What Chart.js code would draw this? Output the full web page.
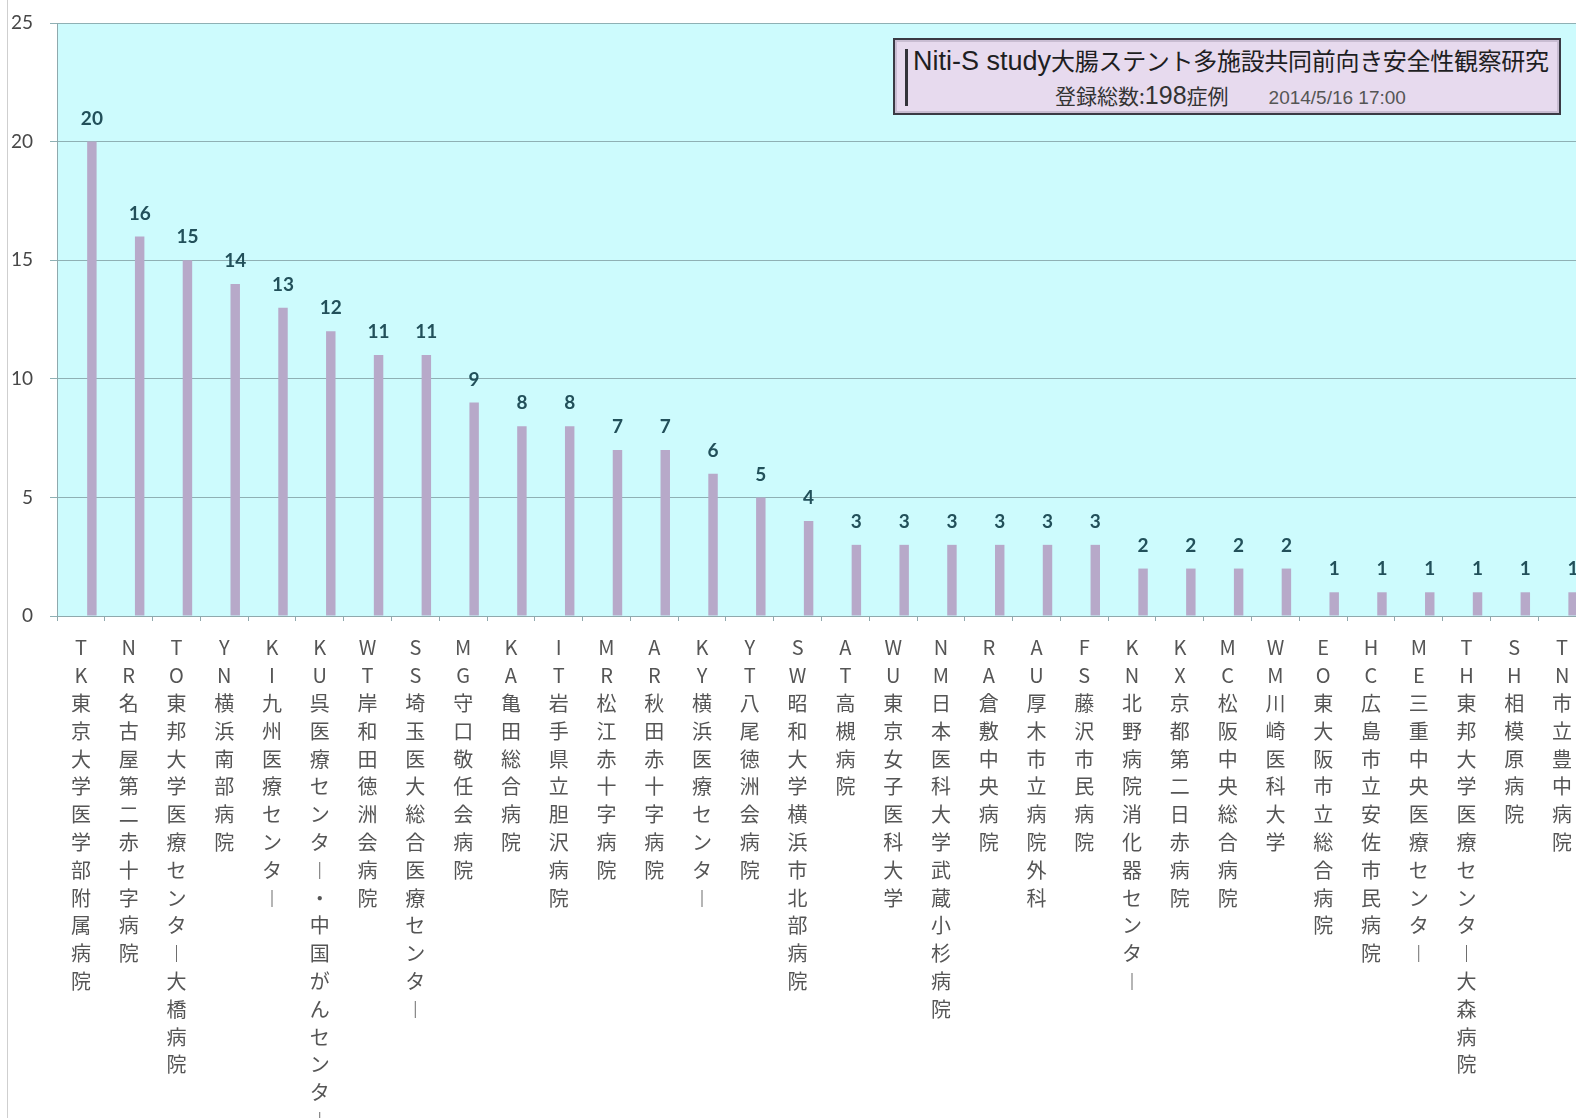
<!DOCTYPE html>
<html lang="ja">
<head>
  <meta charset="UTF-8">
  <title>Niti-S study 登録症例数</title>
  <script src="https://cdn.jsdelivr.net/npm/chart.js"></script>
  <style>
    * { margin: 0; padding: 0; box-sizing: border-box; }
    body {
      width: 1576px;
      height: 1118px;
      overflow: hidden;
      background: #fff;
      position: relative;
    }
    #wrap { position: absolute; left: 0; top: 0; }
    .frame {
      position: absolute;
      left: 893px;
      top: 38px;
      width: 668px;
      height: 77px;
      background: #e7daee;
      border: 2px solid #3a3a44;
      box-shadow: inset 0 0 0 2px #c9bdd2;
      font-family: 'Noto Sans CJK JP', sans-serif;
      color: #1e1e22;
    }
    .frame .bar {
      position: absolute;
      left: 10px;
      top: 9px;
      width: 3px;
      height: 57px;
      background: #33333a;
    }
    .frame .l1 {
      position: absolute;
      left: 18px;
      top: 2px;
      white-space: nowrap;
      font-size: 24px;
      letter-spacing: -0.3px;
    }
    .frame .l1 b {
      font-family: 'Liberation Sans Narrow', 'Liberation Sans', sans-serif;
      font-weight: normal;
      font-size: 27px;
      letter-spacing: 0;
    }
    .frame .l2 {
      position: absolute;
      left: 160px;
      top: 40px;
      white-space: nowrap;
      font-size: 21px;
      color: #333;
    }
    .frame .l2 b {
      font-family: 'Liberation Sans Narrow', 'Liberation Sans', sans-serif;
      font-size: 25px;
      font-weight: normal;
    }
    .frame .l2 span {
      font-family: 'Liberation Sans Narrow', 'Liberation Sans', sans-serif;
      font-size: 19px;
      color: #555;
      margin-left: 40px;
    }
  </style>
</head>
<body>
  <div id="wrap">
    <canvas id="cases" width="1600" height="1118"></canvas>
  </div>

  <div class="frame">
    <div class="bar"></div>
    <div class="l1"><b>Niti-S study</b>大腸ステント多施設共同前向き安全性観察研究</div>
    <div class="l2">登録総数:<b>198</b>症例<span>2014/5/16 17:00</span></div>
  </div>

  <script>
    // facility codes and names (x axis)
    const codes = ['TK', 'NR', 'TO', 'YN', 'KI', 'KU', 'WT', 'SS', 'MG', 'KA', 'IT', 'MR', 'AR', 'KY', 'YT', 'SW',
      'AT', 'WU', 'NM', 'RA', 'AU', 'FS', 'KN', 'KX', 'MC', 'WM', 'EO', 'HC', 'ME', 'TH', 'SH', 'TN'];
    const names = [
      '東京大学医学部附属病院', '名古屋第二赤十字病院', '東邦大学医療センター大橋病院', '横浜南部病院',
      '九州医療センター', '呉医療センター・中国がんセンター', '岸和田徳洲会病院', '埼玉医大総合医療センター',
      '守口敬任会病院', '亀田総合病院', '岩手県立胆沢病院', '松江赤十字病院', '秋田赤十字病院',
      '横浜医療センター', '八尾徳洲会病院', '昭和大学横浜市北部病院', '高槻病院', '東京女子医科大学',
      '日本医科大学武蔵小杉病院', '倉敷中央病院', '厚木市立病院外科', '藤沢市民病院', '北野病院消化器センター',
      '京都第二日赤病院', '松阪中央総合病院', '川崎医科大学', '東大阪市立総合病院', '広島市立安佐市民病院',
      '三重中央医療センター', '東邦大学医療センター大森病院', '相模原病院', '市立豊中病院'
    ];
    // registered cases per facility
    const cases = [20, 16, 15, 14, 13, 12, 11, 11, 9, 8, 8, 7, 7, 6, 5, 4,
      3, 3, 3, 3, 3, 3, 2, 2, 2, 2, 1, 1, 1, 1, 1, 1];
    const yTicks = [0, 5, 10, 15, 20, 25];

    const labels = codes.map((c, i) => c + names[i]);

    // stacked vertical text: one character per line
    function vertical(str) {
      return Array.from(str).map(ch => ch === 'ー' ? '︱' : ch);
    }

    const backdrop = {
      id: 'backdrop',
      beforeDraw(chart) {
        const { ctx, chartArea: a } = chart;
        ctx.save();
        ctx.fillStyle = '#cdfbfd';
        ctx.fillRect(a.left, a.top, a.right - a.left, a.bottom - a.top);
        ctx.fillStyle = '#cfcfcf';
        ctx.fillRect(7, 0, 1, chart.height);
        ctx.restore();
      }
    };

    const valueLabels = {
      id: 'valueLabels',
      afterDatasetsDraw(chart) {
        const { ctx } = chart;
        const meta = chart.getDatasetMeta(1);
        ctx.save();
        ctx.font = 'bold 19px Lato, sans-serif';
        ctx.fillStyle = '#22505a';
        ctx.textAlign = 'center';
        ctx.textBaseline = 'middle';
        meta.data.forEach((bar, i) => {
          ctx.fillText(cases[i], bar.x, bar.y - 23);
        });
        ctx.restore();
      }
    };

    new Chart(document.getElementById('cases'), {
      type: 'bar',
      data: {
        labels: labels,
        datasets: [
          { label: '', data: [] },
          {
            label: '症例数',
            data: cases,
            backgroundColor: '#b7a9c9'
          }
        ]
      },
      options: {
        responsive: false,
        animation: false,
        layout: { padding: { top: 23, right: 14, bottom: 0, left: 0 } },
        datasets: { bar: { categoryPercentage: 0.92, barPercentage: 0.43 } },
        plugins: {
          legend: { display: false },
          tooltip: { enabled: false }
        },
        scales: {
          x: {
            afterFit: s => { s.height = 502; },
            grid: {
              drawOnChartArea: false,
              drawTicks: true,
              tickLength: 5,
              color: '#8fa9ad'
            },
            border: { color: '#8fa9ad', width: 1 },
            ticks: {
              autoSkip: false,
              maxRotation: 0,
              minRotation: 0,
              padding: 13,
              color: '#555',
              font: { family: "'Noto Sans CJK JP', sans-serif", size: 20, lineHeight: 1.39 },
              callback: function (v, i) { return vertical(labels[i]); }
            }
          },
          y: {
            min: 0,
            max: 25,
            afterFit: s => { s.width = 57; s.paddingTop = 0; s.paddingBottom = 0; },
            afterBuildTicks: s => { s.ticks = yTicks.map(v => ({ value: v })); },
            grid: { color: '#8fb0b4', tickLength: 7 },
            border: { color: '#8fa9ad', width: 1 },
            ticks: {
              padding: 17,
              color: '#474747',
              font: { family: 'Lato, sans-serif', size: 19 }
            }
          }
        }
      },
      plugins: [backdrop, valueLabels]
    });
  </script>
</body>
</html>
